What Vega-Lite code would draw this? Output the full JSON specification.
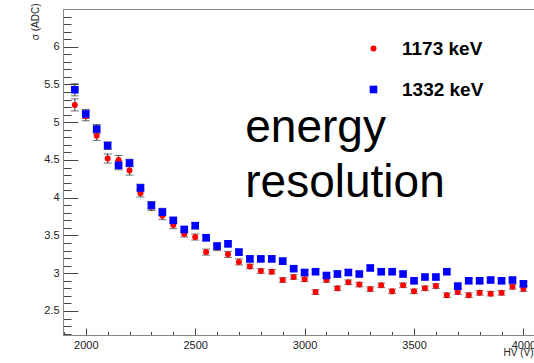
{
  "$schema": "https://vega.github.io/schema/vega-lite/v6.json",
  "width": 474,
  "height": 326,
  "autosize": "none",
  "padding": {"left": 63, "top": 9, "right": 0, "bottom": 28},
  "background": "white",
  "config": {
    "view": {"stroke": "#888", "strokeWidth": 1},
    "font": "Liberation Sans"
  },
  "data": {
    "values": [
      {"series": "1173 keV", "hv": 1950, "sigma": 5.23, "err": 0.08},
      {"series": "1173 keV", "hv": 2000, "sigma": 5.08, "err": 0.06},
      {"series": "1173 keV", "hv": 2050, "sigma": 4.82, "err": 0.06},
      {"series": "1173 keV", "hv": 2100, "sigma": 4.52, "err": 0.06},
      {"series": "1173 keV", "hv": 2150, "sigma": 4.50, "err": 0.06},
      {"series": "1173 keV", "hv": 2200, "sigma": 4.36, "err": 0.06},
      {"series": "1173 keV", "hv": 2250, "sigma": 4.06, "err": 0.05},
      {"series": "1173 keV", "hv": 2300, "sigma": 3.88, "err": 0.05},
      {"series": "1173 keV", "hv": 2350, "sigma": 3.76, "err": 0.05},
      {"series": "1173 keV", "hv": 2400, "sigma": 3.64, "err": 0.05},
      {"series": "1173 keV", "hv": 2450, "sigma": 3.52, "err": 0.04},
      {"series": "1173 keV", "hv": 2500, "sigma": 3.48, "err": 0.04},
      {"series": "1173 keV", "hv": 2550, "sigma": 3.28, "err": 0.04},
      {"series": "1173 keV", "hv": 2600, "sigma": 3.34, "err": 0.04},
      {"series": "1173 keV", "hv": 2650, "sigma": 3.25, "err": 0.04},
      {"series": "1173 keV", "hv": 2700, "sigma": 3.15, "err": 0.04},
      {"series": "1173 keV", "hv": 2750, "sigma": 3.09, "err": 0.03},
      {"series": "1173 keV", "hv": 2800, "sigma": 3.03, "err": 0.03},
      {"series": "1173 keV", "hv": 2850, "sigma": 3.02, "err": 0.03},
      {"series": "1173 keV", "hv": 2900, "sigma": 2.91, "err": 0.03},
      {"series": "1173 keV", "hv": 2950, "sigma": 2.95, "err": 0.03},
      {"series": "1173 keV", "hv": 3000, "sigma": 2.92, "err": 0.03},
      {"series": "1173 keV", "hv": 3050, "sigma": 2.75, "err": 0.03},
      {"series": "1173 keV", "hv": 3100, "sigma": 2.91, "err": 0.03},
      {"series": "1173 keV", "hv": 3150, "sigma": 2.80, "err": 0.03},
      {"series": "1173 keV", "hv": 3200, "sigma": 2.88, "err": 0.03},
      {"series": "1173 keV", "hv": 3250, "sigma": 2.85, "err": 0.03},
      {"series": "1173 keV", "hv": 3300, "sigma": 2.79, "err": 0.03},
      {"series": "1173 keV", "hv": 3350, "sigma": 2.84, "err": 0.03},
      {"series": "1173 keV", "hv": 3400, "sigma": 2.76, "err": 0.03},
      {"series": "1173 keV", "hv": 3450, "sigma": 2.84, "err": 0.03},
      {"series": "1173 keV", "hv": 3500, "sigma": 2.76, "err": 0.03},
      {"series": "1173 keV", "hv": 3550, "sigma": 2.80, "err": 0.03},
      {"series": "1173 keV", "hv": 3600, "sigma": 2.83, "err": 0.03},
      {"series": "1173 keV", "hv": 3650, "sigma": 2.71, "err": 0.03},
      {"series": "1173 keV", "hv": 3700, "sigma": 2.75, "err": 0.03},
      {"series": "1173 keV", "hv": 3750, "sigma": 2.71, "err": 0.03},
      {"series": "1173 keV", "hv": 3800, "sigma": 2.74, "err": 0.03},
      {"series": "1173 keV", "hv": 3850, "sigma": 2.73, "err": 0.03},
      {"series": "1173 keV", "hv": 3900, "sigma": 2.74, "err": 0.03},
      {"series": "1173 keV", "hv": 3950, "sigma": 2.82, "err": 0.03},
      {"series": "1173 keV", "hv": 4000, "sigma": 2.79, "err": 0.03},
      {"series": "1332 keV", "hv": 1950, "sigma": 5.43, "err": 0.08},
      {"series": "1332 keV", "hv": 2000, "sigma": 5.11, "err": 0.06},
      {"series": "1332 keV", "hv": 2050, "sigma": 4.91, "err": 0.06},
      {"series": "1332 keV", "hv": 2100, "sigma": 4.69, "err": 0.05},
      {"series": "1332 keV", "hv": 2150, "sigma": 4.43, "err": 0.06},
      {"series": "1332 keV", "hv": 2200, "sigma": 4.46, "err": 0.05},
      {"series": "1332 keV", "hv": 2250, "sigma": 4.13, "err": 0.05},
      {"series": "1332 keV", "hv": 2300, "sigma": 3.90, "err": 0.05},
      {"series": "1332 keV", "hv": 2350, "sigma": 3.81, "err": 0.05},
      {"series": "1332 keV", "hv": 2400, "sigma": 3.70, "err": 0.04},
      {"series": "1332 keV", "hv": 2450, "sigma": 3.58, "err": 0.04},
      {"series": "1332 keV", "hv": 2500, "sigma": 3.63, "err": 0.04},
      {"series": "1332 keV", "hv": 2550, "sigma": 3.47, "err": 0.04},
      {"series": "1332 keV", "hv": 2600, "sigma": 3.36, "err": 0.04},
      {"series": "1332 keV", "hv": 2650, "sigma": 3.39, "err": 0.04},
      {"series": "1332 keV", "hv": 2700, "sigma": 3.28, "err": 0.04},
      {"series": "1332 keV", "hv": 2750, "sigma": 3.19, "err": 0.04},
      {"series": "1332 keV", "hv": 2800, "sigma": 3.19, "err": 0.03},
      {"series": "1332 keV", "hv": 2850, "sigma": 3.19, "err": 0.04},
      {"series": "1332 keV", "hv": 2900, "sigma": 3.16, "err": 0.04},
      {"series": "1332 keV", "hv": 2950, "sigma": 3.06, "err": 0.03},
      {"series": "1332 keV", "hv": 3000, "sigma": 3.01, "err": 0.03},
      {"series": "1332 keV", "hv": 3050, "sigma": 3.02, "err": 0.03},
      {"series": "1332 keV", "hv": 3100, "sigma": 2.97, "err": 0.03},
      {"series": "1332 keV", "hv": 3150, "sigma": 2.99, "err": 0.04},
      {"series": "1332 keV", "hv": 3200, "sigma": 3.01, "err": 0.04},
      {"series": "1332 keV", "hv": 3250, "sigma": 2.99, "err": 0.03},
      {"series": "1332 keV", "hv": 3300, "sigma": 3.07, "err": 0.03},
      {"series": "1332 keV", "hv": 3350, "sigma": 3.02, "err": 0.03},
      {"series": "1332 keV", "hv": 3400, "sigma": 3.02, "err": 0.03},
      {"series": "1332 keV", "hv": 3450, "sigma": 2.99, "err": 0.03},
      {"series": "1332 keV", "hv": 3500, "sigma": 2.90, "err": 0.03},
      {"series": "1332 keV", "hv": 3550, "sigma": 2.95, "err": 0.03},
      {"series": "1332 keV", "hv": 3600, "sigma": 2.95, "err": 0.03},
      {"series": "1332 keV", "hv": 3650, "sigma": 3.02, "err": 0.03},
      {"series": "1332 keV", "hv": 3700, "sigma": 2.83, "err": 0.03},
      {"series": "1332 keV", "hv": 3750, "sigma": 2.90, "err": 0.03},
      {"series": "1332 keV", "hv": 3800, "sigma": 2.90, "err": 0.03},
      {"series": "1332 keV", "hv": 3850, "sigma": 2.91, "err": 0.03},
      {"series": "1332 keV", "hv": 3900, "sigma": 2.90, "err": 0.03},
      {"series": "1332 keV", "hv": 3950, "sigma": 2.91, "err": 0.03},
      {"series": "1332 keV", "hv": 4000, "sigma": 2.86, "err": 0.03}
    ]
  },
  "encoding": {
    "x": {
      "field": "hv",
      "type": "quantitative",
      "scale": {"domain": [1896, 4062], "nice": false, "zero": false},
      "axis": {
        "values": [1900, 2000, 2100, 2200, 2300, 2400, 2500, 2600, 2700, 2800, 2900, 3000, 3100, 3200, 3300, 3400, 3500, 3600, 3700, 3800, 3900, 4000],
        "tickSize": {"condition": {"test": "datum.value % 500 === 0", "value": -7}, "value": -3.5},
        "tickColor": "#444",
        "tickWidth": 1,
        "domainColor": "#888",
        "grid": false,
        "labelExpr": "datum.value % 500 === 0 ? format(datum.value, 'd') : ''",
        "labelPadding": 11,
        "labelFont": "Liberation Sans",
        "labelFontSize": 11,
        "labelColor": "#222",
        "labelOverlap": false,
        "labelFlush": false,
        "labelBound": false,
        "title": "HV (V)",
        "titleFont": "Liberation Sans",
        "titleFontSize": 10,
        "titleFontWeight": "normal",
        "titleColor": "#222",
        "titleAnchor": "end",
        "titleAlign": "right",
        "titleBaseline": "alphabetic",
        "titleX": 470,
        "titleY": 20
      }
    },
    "y": {
      "field": "sigma",
      "type": "quantitative",
      "scale": {"domain": [2.182, 6.5], "nice": false, "zero": false},
      "axis": {
        "values": [2.2, 2.3, 2.4, 2.5, 2.6, 2.7, 2.8, 2.9, 3.0, 3.1, 3.2, 3.3, 3.4, 3.5, 3.6, 3.7, 3.8, 3.9, 4.0, 4.1, 4.2, 4.3, 4.4, 4.5, 4.6, 4.7, 4.8, 4.9, 5.0, 5.1, 5.2, 5.3, 5.4, 5.5, 5.6, 5.7, 5.8, 5.9, 6.0, 6.1, 6.2, 6.3, 6.4],
        "tickSize": {"condition": {"test": "abs(round(datum.value * 10) % 5) === 0", "value": -15}, "value": -8},
        "tickColor": "#444",
        "tickWidth": 1,
        "domainColor": "#888",
        "grid": false,
        "labelExpr": "abs(round(datum.value * 10) % 5) === 0 ? format(datum.value, '~g') : ''",
        "labelPadding": 19,
        "labelFont": "Liberation Sans",
        "labelFontSize": 11,
        "labelColor": "#222",
        "labelOverlap": false,
        "labelFlush": false,
        "labelBound": false,
        "title": "σ (ADC)",
        "titleFont": "Liberation Sans",
        "titleFontSize": 10,
        "titleFontWeight": "normal",
        "titleColor": "#222",
        "titleAngle": -90,
        "titleAlign": "right",
        "titleBaseline": "middle",
        "titleX": -28,
        "titleY": -6
      }
    }
  },
  "layer": [
    {
      "mark": {"type": "errorbar", "ticks": {"size": 8, "color": "#333"}, "rule": {"color": "#333", "strokeWidth": 1}},
      "encoding": {
        "yError": {"field": "err"}
      }
    },
    {
      "mark": {"type": "point", "filled": true, "opacity": 1, "strokeWidth": 0},
      "encoding": {
        "color": {
          "field": "series", "type": "nominal",
          "scale": {"domain": ["1173 keV", "1332 keV"], "range": ["#ff0000", "#0000ff"]},
          "legend": {"orient": "none", "legendX": 301, "legendY": 30, "title": null, "padding": 0, "symbolSize": 22, "symbolStrokeWidth": 0, "labelFont": "Liberation Sans", "labelFontSize": 19, "labelFontWeight": "bold", "labelColor": "black", "labelOffset": 19, "rowPadding": 21, "labelLimit": 200}
        },
        "shape": {
          "field": "series", "type": "nominal",
          "scale": {"domain": ["1173 keV", "1332 keV"], "range": ["circle", "square"]},
          "legend": {"orient": "none", "legendX": 301, "legendY": 30, "title": null, "padding": 0, "symbolSize": 22, "symbolStrokeWidth": 0, "labelFont": "Liberation Sans", "labelFontSize": 19, "labelFontWeight": "bold", "labelColor": "black", "labelOffset": 19, "rowPadding": 21, "labelLimit": 200}
        },
        "size": {"field": "series", "type": "nominal", "scale": {"domain": ["1173 keV", "1332 keV"], "range": [36, 58]}, "legend": null}
      }
    },
    {
      "data": {
        "values": [
          {"label": "energy", "hv": 2729, "sigma": 4.734},
          {"label": "resolution", "hv": 2729, "sigma": 4.013}
        ]
      },
      "mark": {"type": "text", "align": "left", "baseline": "alphabetic", "font": "Liberation Sans", "fontSize": 46, "color": "black"},
      "encoding": {
        "text": {"field": "label", "type": "nominal"}
      }
    }
  ]
}
